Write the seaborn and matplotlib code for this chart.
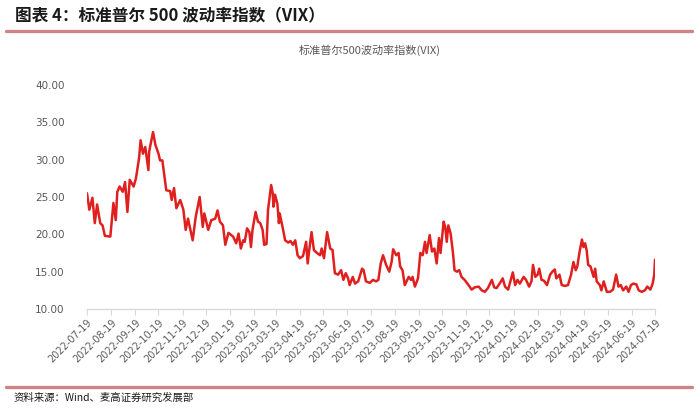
import matplotlib
matplotlib.use("Agg")
import matplotlib.pyplot as plt
from matplotlib.lines import Line2D
import pandas as pd
import seaborn as sns

dates = [
    "2022-07-19","2022-07-22","2022-07-26","2022-07-29","2022-08-01","2022-08-05","2022-08-08","2022-08-11",
    "2022-08-18","2022-08-22","2022-08-25","2022-08-27","2022-08-30","2022-09-03","2022-09-06","2022-09-09",
    "2022-09-12","2022-09-17","2022-09-20","2022-09-24","2022-09-26","2022-09-29","2022-10-02","2022-10-06",
    "2022-10-07","2022-10-12","2022-10-15","2022-10-19","2022-10-21","2022-10-24","2022-10-29","2022-11-03",
    "2022-11-05","2022-11-08","2022-11-11","2022-11-16","2022-11-20","2022-11-23","2022-11-26","2022-12-02",
    "2022-12-06","2022-12-11","2022-12-15","2022-12-17","2022-12-22","2022-12-26","2022-12-31","2023-01-03",
    "2023-01-06","2023-01-10","2023-01-13","2023-01-17","2023-01-23","2023-01-27","2023-01-30","2023-02-02",
    "2023-02-05","2023-02-07","2023-02-10","2023-02-13","2023-02-15","2023-02-17","2023-02-21","2023-02-24",
    "2023-02-27","2023-03-02","2023-03-04","2023-03-07","2023-03-09","2023-03-13","2023-03-15","2023-03-16",
    "2023-03-18","2023-03-21","2023-03-23","2023-03-24","2023-03-28","2023-03-31","2023-04-04","2023-04-07",
    "2023-04-10","2023-04-13","2023-04-16","2023-04-19","2023-04-23","2023-04-27","2023-04-29","2023-05-01",
    "2023-05-04","2023-05-07","2023-05-11","2023-05-15","2023-05-17","2023-05-20","2023-05-24","2023-05-28",
    "2023-05-31","2023-06-03","2023-06-07","2023-06-11","2023-06-14","2023-06-17","2023-06-20","2023-06-22",
    "2023-06-26","2023-06-29","2023-07-03","2023-07-08","2023-07-10","2023-07-13","2023-07-18","2023-07-22",
    "2023-07-26","2023-07-29","2023-08-01","2023-08-04","2023-08-08","2023-08-12","2023-08-15","2023-08-17",
    "2023-08-21","2023-08-24","2023-08-26","2023-08-29","2023-09-01","2023-09-06","2023-09-09","2023-09-11",
    "2023-09-14","2023-09-18","2023-09-21","2023-09-24","2023-09-27","2023-09-29","2023-10-03","2023-10-06",
    "2023-10-09","2023-10-12","2023-10-15","2023-10-17","2023-10-21","2023-10-23","2023-10-25","2023-10-27",
    "2023-10-30","2023-11-02","2023-11-04","2023-11-07","2023-11-10","2023-11-13","2023-11-17","2023-11-22",
    "2023-11-26","2023-11-30","2023-12-05","2023-12-09","2023-12-13","2023-12-17","2023-12-22","2023-12-25",
    "2023-12-28","2024-01-01","2024-01-05","2024-01-08","2024-01-12","2024-01-18","2024-01-21","2024-01-24",
    "2024-01-27","2024-02-01","2024-02-04","2024-02-08","2024-02-11","2024-02-13","2024-02-16","2024-02-19",
    "2024-02-21","2024-02-24","2024-02-27","2024-03-02","2024-03-06","2024-03-09","2024-03-12","2024-03-14",
    "2024-03-18","2024-03-21","2024-03-25","2024-03-29","2024-04-02","2024-04-05","2024-04-08","2024-04-10",
    "2024-04-13","2024-04-16","2024-04-18","2024-04-20","2024-04-22","2024-04-24","2024-04-27","2024-05-01",
    "2024-05-03","2024-05-05","2024-05-09","2024-05-11","2024-05-14","2024-05-18","2024-05-22","2024-05-26",
    "2024-05-30","2024-06-02","2024-06-05","2024-06-08","2024-06-12","2024-06-15","2024-06-18","2024-06-21",
    "2024-06-25","2024-06-28","2024-07-02","2024-07-06","2024-07-09","2024-07-13","2024-07-16","2024-07-18",
    "2024-07-19",
]
vix = [
    25.5, 23.3, 24.9, 21.5, 24.0, 21.5, 21.2, 19.8,
    19.7, 24.2, 21.9, 25.7, 26.4, 25.7, 27.0, 23.0,
    27.3, 26.4, 27.5, 30.2, 32.6, 30.8, 31.7, 28.6,
    31.1, 33.7, 32.0, 30.8, 29.9, 29.9, 25.9, 25.8,
    24.6, 26.2, 23.5, 24.6, 23.3, 20.6, 22.1, 19.2,
    22.4, 25.0, 21.0, 22.8, 20.6, 21.9, 22.1, 23.2,
    21.7, 21.2, 18.6, 20.2, 19.7, 18.8, 20.1, 18.1,
    19.2, 19.0, 20.8, 20.3, 18.3, 20.6, 23.0, 21.7,
    21.5, 20.6, 18.6, 18.7, 23.3, 26.6, 25.5, 23.7,
    25.3, 24.1, 21.5, 22.8, 20.8, 19.2, 18.9, 19.1,
    18.6, 19.2, 17.2, 16.8, 17.1, 19.0, 16.1, 17.9,
    20.3, 17.9, 17.5, 17.2, 18.1, 16.8, 20.3, 18.1,
    17.9, 14.8, 14.6, 15.2, 13.9, 14.8, 14.1, 13.2,
    14.3, 13.4, 13.7, 15.4, 15.2, 13.7, 13.5, 13.9,
    13.7, 13.9, 16.1, 17.2, 15.9, 15.0, 16.3, 18.0,
    17.2, 17.5, 15.7, 15.2, 13.2, 14.3, 13.9, 14.3,
    13.0, 14.1, 17.5, 17.2, 19.0, 17.5, 19.9, 17.7,
    18.1, 16.1, 19.5, 17.5, 21.7, 21.0, 19.0, 21.2,
    20.1, 17.5, 15.2, 15.0, 15.2, 14.3, 13.9, 13.2,
    12.6, 12.9, 13.0, 12.5, 12.3, 12.8, 13.9, 12.9,
    12.8, 13.4, 14.1, 13.0, 12.6, 14.9, 13.2, 13.9,
    13.4, 14.3, 13.9, 13.0, 13.7, 15.9, 14.3, 14.6,
    15.4, 13.9, 13.8, 13.2, 14.6, 15.0, 15.3, 14.1,
    14.6, 13.2, 13.1, 13.2, 14.6, 16.3, 15.2, 15.7,
    17.7, 19.3, 18.3, 18.8, 17.9, 15.9, 15.7, 14.3,
    15.4, 13.7, 13.2, 12.5, 13.7, 12.3, 12.3, 12.6,
    14.6, 13.0, 13.2, 12.5, 13.0, 12.3, 13.2, 13.4,
    13.3, 12.5, 12.3, 12.5, 13.0, 12.6, 13.4, 14.6,
    16.6,
]
tick_labels = [
    "2022-07-19","2022-08-19","2022-09-19","2022-10-19","2022-11-19","2022-12-19",
    "2023-01-19","2023-02-19","2023-03-19","2023-04-19","2023-05-19","2023-06-19",
    "2023-07-19","2023-08-19","2023-09-19","2023-10-19","2023-11-19","2023-12-19",
    "2024-01-19","2024-02-19","2024-03-19","2024-04-19","2024-05-19","2024-06-19",
    "2024-07-19",
]
y_ticks = [10, 15, 20, 25, 30, 35, 40]

title_text = "图表 4：标准普尔 500 波动率指数（VIX）"
chart_title = "标准普尔500波动率指数(VIX)"
source_text = "资料来源：Wind、麦高证券研究发展部"

sns.set_theme(style="white")
plt.rcParams['font.family'] = ['Noto Sans CJK SC', 'DejaVu Sans']

df = pd.DataFrame({"date": pd.to_datetime(dates), "vix": vix})

fig = plt.figure(figsize=(7.0, 4.09), dpi=100)
ax = fig.add_axes([87/700, 1-309/409, (655-87)/700, (309-85)/409])

sns.lineplot(data=df, x="date", y="vix", ax=ax, color="#E0201F", linewidth=1.8)

tick_dates = pd.to_datetime(tick_labels)
ax.set_xlim(tick_dates[0], tick_dates[-1])
ax.set_ylim(10, 40)
ax.set_xticks(tick_dates)
ax.set_xticklabels(tick_labels, rotation=45, ha="right", rotation_mode="anchor",
                   fontsize=7, color="#595959", family=['DejaVu Sans'])
ax.set_yticks(y_ticks)
ax.set_yticklabels([f"{v:.2f}" for v in y_ticks], fontsize=7.5, color="#595959", family=['DejaVu Sans'])
ax.set_xlabel("")
ax.set_ylabel("")

for s in ["top", "right", "left"]:
    ax.spines[s].set_visible(False)
ax.spines["bottom"].set_color("#D9D9D9")
ax.spines["bottom"].set_linewidth(1.0)
ax.tick_params(axis="x", which="major", bottom=True, length=4, width=0.8, color="#D9D9D9", pad=2)
ax.tick_params(axis="y", left=False, pad=10)

fig.text(15/700, 1-16/409, title_text, fontsize=12, fontweight="bold", color="#1a1a1a",
         ha="left", va="center")
fig.add_artist(Line2D([6/700, 692/700], [1-31/409, 1-31/409], color="#CD8487", linewidth=2.4,
                      transform=fig.transFigure))
fig.text(370/700, 1-50/409, chart_title, fontsize=8, color="#595959", ha="center", va="center")
fig.add_artist(Line2D([6/700, 692/700], [1-387/409, 1-387/409], color="#CD8487", linewidth=2.4,
                      transform=fig.transFigure))
fig.text(14/700, 1-398/409, source_text, fontsize=7.5, color="#1a1a1a", ha="left", va="center")

fig.savefig("out.png", dpi=100)
